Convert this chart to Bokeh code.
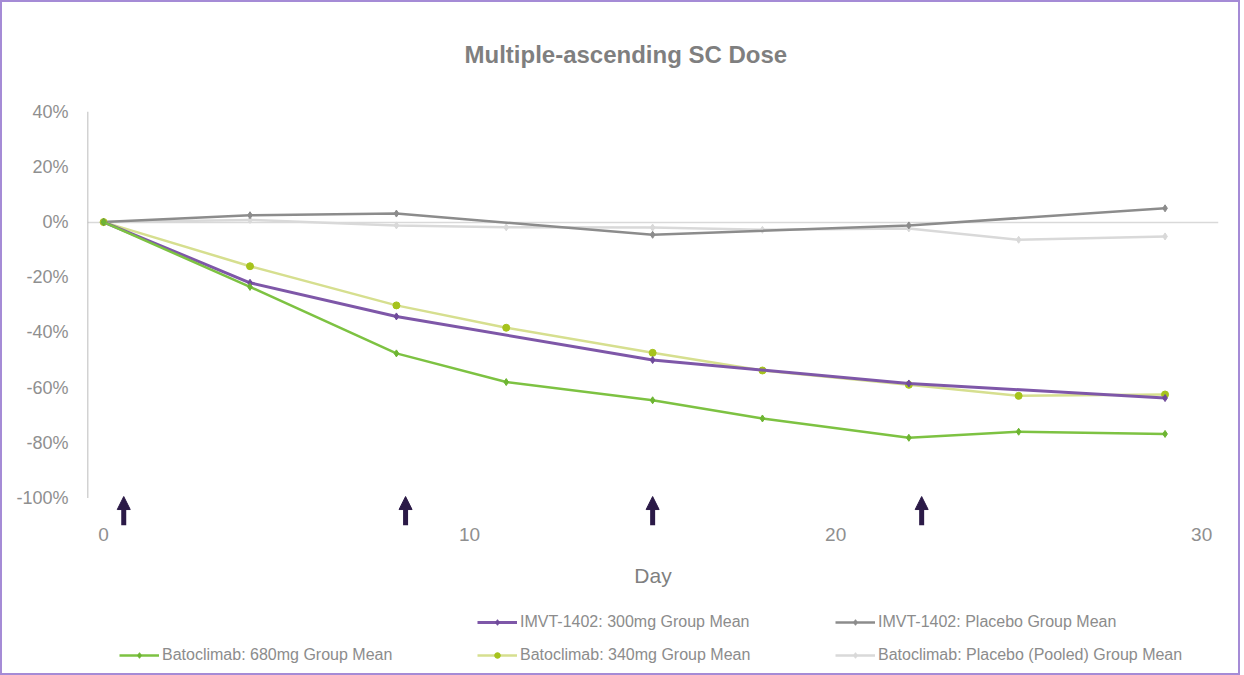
from bokeh.plotting import figure
from bokeh.layouts import column
from bokeh.models import (Legend, LegendItem, FixedTicker, PrintfTickFormatter,
                          Arrow, NormalHead)
from bokeh.embed import file_html
from bokeh.resources import INLINE

FONT = "'Liberation Sans Narrow', 'Liberation Sans', Arial, sans-serif"
NAN = float("nan")

# ---- data (percent change from baseline) ----
days_bato = [0, 4, 8, 11, 15, 18, 22, 25, 29]
bato_680 = [0, -23.5, -47.6, -58.0, -64.6, -71.2, -78.2, -76.0, -76.8]
bato_340 = [0, -16.0, -30.2, -38.3, -47.4, -53.8, -59.0, -63.0, -62.5]
bato_pbo = [0, 0.8, -1.2, -1.9, -2.0, -2.8, -2.3, -6.4, -5.2]

days_imvt = [0, 4, 8, 15, 22, 29]
imvt_300 = [0, -22.0, -34.2, -50.0, -58.5, -63.8]
imvt_pbo = [0, 2.5, 3.1, -4.6, -1.2, 5.0]

dose_days = [0.55, 8.25, 15.0, 22.35]

y_ticks = [-100, -80, -60, -40, -20, 0, 20, 40]
x_ticks = [0, 10, 20, 30]

labels = {
    "i300": "IMVT-1402: 300mg Group Mean",
    "ipbo": "IMVT-1402: Placebo Group Mean",
    "b680": "Batoclimab: 680mg Group Mean",
    "b340": "Batoclimab: 340mg Group Mean",
    "bpbo": "Batoclimab: Placebo (Pooled) Group Mean",
}
line_style = {
    "bpbo": dict(line_color="#d9d9d9", line_width=2.5),
    "ipbo": dict(line_color="#8c8c8c", line_width=2.5),
    "b340": dict(line_color="#d6df8f", line_width=2.5),
    "i300": dict(line_color="#7e57a8", line_width=3),
    "b680": dict(line_color="#7dc242", line_width=2.5),
}
mark_style = {
    "bpbo": dict(marker="diamond", size=7, color="#d9d9d9"),
    "ipbo": dict(marker="diamond", size=7, color="#8c8c8c"),
    "b340": dict(marker="circle", size=7, color="#a6c31c"),
    "i300": dict(marker="diamond", size=7, color="#6f4a9a"),
    "b680": dict(marker="diamond", size=7, color="#6db532"),
}
series = {
    "bpbo": (days_bato, bato_pbo),
    "ipbo": (days_imvt, imvt_pbo),
    "b340": (days_bato, bato_340),
    "i300": (days_imvt, imvt_300),
    "b680": (days_bato, bato_680),
}

p = figure(width=1236, height=598, output_backend="svg", toolbar_location=None,
           x_range=(-0.44, 30.46), y_range=(-110, 43),
           min_border_left=85, min_border_right=20, min_border_top=98,
           min_border_bottom=75)

p.title.text = "Multiple-ascending SC Dose"
p.title.text_font = FONT
p.title.text_font_size = "24px"
p.title.text_font_style = "bold"
p.title.text_color = "#7f7f7f"
p.title.align = "left"
p.title.offset = 377
p.title.standoff = 72

p.outline_line_color = None
p.xgrid.grid_line_color = None
p.ygrid.ticker = FixedTicker(ticks=[0])
p.ygrid.grid_line_color = "#d9d9d9"
p.ygrid.grid_line_width = 1.5

# y axis
ya = p.yaxis[0]
ya.ticker = FixedTicker(ticks=y_ticks)
ya.formatter = PrintfTickFormatter(format="%d%%")
ya.axis_line_color = None
ya.major_tick_line_color = None
ya.minor_tick_line_color = None
ya.major_label_standoff = 13
ya.major_label_text_font = FONT
ya.major_label_text_font_size = "18px"
ya.major_label_text_color = "#8f8f8f"
# axis line only from -100% to 40%
p.segment(x0=[-0.44], y0=[min(y_ticks)], x1=[-0.44], y1=[max(y_ticks)],
          line_color="#a6a6a6", line_width=1.5)

# x axis
xa = p.xaxis[0]
xa.ticker = FixedTicker(ticks=x_ticks)
xa.axis_line_color = None
xa.major_tick_line_color = None
xa.minor_tick_line_color = None
xa.major_label_standoff = -4
xa.major_label_text_font = FONT
xa.major_label_text_font_size = "19px"
xa.major_label_text_color = "#8f8f8f"
xa.axis_label = "Day"
xa.axis_label_text_font = FONT
xa.axis_label_text_font_size = "21px"
xa.axis_label_text_font_style = "normal"
xa.axis_label_text_color = "#7f7f7f"
xa.axis_label_standoff = 20

# series
for k, (xs, ys) in series.items():
    p.line(xs, ys, **line_style[k])
    p.scatter(xs, ys, **mark_style[k])

# dose arrows
for d in dose_days:
    p.add_layout(Arrow(x_start=d, y_start=-110, x_end=d, y_end=-99.5,
                       line_color="#2b1a47", line_width=5,
                       end=NormalHead(size=13, fill_color="#2b1a47",
                                      line_color="#2b1a47")))

# ---- legend strip ----
lf = figure(width=1236, height=73, output_backend="svg", toolbar_location=None,
            x_range=(0, 1), y_range=(0, 1), x_axis_type=None, y_axis_type=None,
            min_border=0)
lf.outline_line_color = None
lf.xgrid.grid_line_color = None
lf.ygrid.grid_line_color = None

leg_r = {}
for k in series:
    leg_r[k] = [lf.line([NAN], [NAN], **line_style[k]),
                lf.scatter([NAN], [NAN], **mark_style[k])]
dummy = lf.line([NAN], [NAN], line_alpha=0)

order = [None, "i300", "ipbo", "b680", "b340", "bpbo"]
items = []
for k in order:
    if k is None:
        items.append(LegendItem(label=" ", renderers=[dummy]))
    else:
        items.append(LegendItem(label=labels[k], renderers=leg_r[k]))

leg = Legend(items=items, orientation="horizontal", ncols=3,
             location=(32, 2), padding=0, margin=0, spacing=0,
             glyph_width=40, glyph_height=14, label_height=33,
             label_width=315, label_standoff=3,
             label_text_font=FONT, label_text_font_size="16px",
             label_text_color="#8c8c8c",
             border_line_color=None, background_fill_alpha=0)
lf.add_layout(leg, "center")

layout = column(p, lf, spacing=0)
layout.styles = {"border": "2px solid #a58bd6"}

open("out.html", "w").write(file_html(layout, INLINE))
